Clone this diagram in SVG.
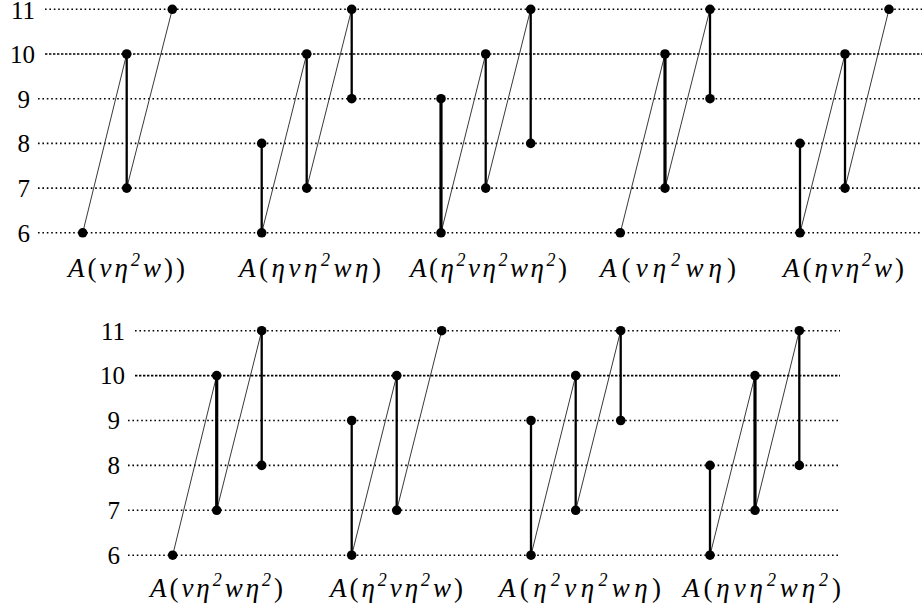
<svg xmlns="http://www.w3.org/2000/svg" id="root" width="922" height="614" viewBox="0 0 922 614" font-family="Liberation Serif" style="font-family:'Liberation Serif',serif">
<style>
svg#root text, svg#root tspan { font-family: "Liberation Serif", serif !important; }
.grid{stroke:#000;stroke-width:1.6;stroke-dasharray:1.6 2.8;fill:none}
.g10{stroke-dasharray:2.4 1.6}
.thin{stroke:#222;stroke-width:0.9;fill:none}
.thick{stroke:#000;stroke-width:2.3;fill:none}
.xthick{stroke:#000;stroke-width:3.2;fill:none}
.dot{fill:#000}
</style>
<rect width="922" height="614" fill="#fff"/>
<g id="grid-top">
<line class="grid" x1="45" y1="9.3" x2="922" y2="9.3"/>
<line class="grid g10" x1="45" y1="54" x2="922" y2="54"/>
<line class="grid" x1="38" y1="98.7" x2="922" y2="98.7"/>
<line class="grid" x1="38" y1="143.4" x2="922" y2="143.4"/>
<line class="grid" x1="38" y1="188.1" x2="922" y2="188.1"/>
<line class="grid" x1="38" y1="232.8" x2="922" y2="232.8"/>
</g>
<g id="axis-top">
<text x="35" y="19" font-family="Liberation Serif" font-size="25" text-anchor="end" style="font-family:'Liberation Serif' !important">11</text>
<text x="35" y="63" font-family="Liberation Serif" font-size="25" text-anchor="end" style="font-family:'Liberation Serif' !important">10</text>
<text x="30" y="107.5" font-family="Liberation Serif" font-size="25" text-anchor="end" style="font-family:'Liberation Serif' !important">9</text>
<text x="30" y="152" font-family="Liberation Serif" font-size="25" text-anchor="end" style="font-family:'Liberation Serif' !important">8</text>
<text x="30" y="197" font-family="Liberation Serif" font-size="25" text-anchor="end" style="font-family:'Liberation Serif' !important">7</text>
<text x="30" y="241.5" font-family="Liberation Serif" font-size="25" text-anchor="end" style="font-family:'Liberation Serif' !important">6</text>
</g>
<g id="grid-bottom">
<line class="grid" x1="135" y1="330.7" x2="840" y2="330.7"/>
<line class="grid g10" x1="135" y1="375.6" x2="840" y2="375.6"/>
<line class="grid" x1="128" y1="420.5" x2="840" y2="420.5"/>
<line class="grid" x1="128" y1="465.4" x2="840" y2="465.4"/>
<line class="grid" x1="128" y1="510.3" x2="840" y2="510.3"/>
<line class="grid" x1="128" y1="555.2" x2="840" y2="555.2"/>
</g>
<g id="axis-bottom">
<text x="125" y="339.5" font-family="Liberation Serif" font-size="25" text-anchor="end" style="font-family:'Liberation Serif' !important">11</text>
<text x="125" y="384.3" font-family="Liberation Serif" font-size="25" text-anchor="end" style="font-family:'Liberation Serif' !important">10</text>
<text x="120" y="429" font-family="Liberation Serif" font-size="25" text-anchor="end" style="font-family:'Liberation Serif' !important">9</text>
<text x="120" y="474" font-family="Liberation Serif" font-size="25" text-anchor="end" style="font-family:'Liberation Serif' !important">8</text>
<text x="120" y="519" font-family="Liberation Serif" font-size="25" text-anchor="end" style="font-family:'Liberation Serif' !important">7</text>
<text x="120" y="564" font-family="Liberation Serif" font-size="25" text-anchor="end" style="font-family:'Liberation Serif' !important">6</text>
</g>
<g id="connectors">
<line class="thin" x1="82.7" y1="232.8" x2="126.7" y2="54"/>
<line class="thin" x1="126.7" y1="188.1" x2="172.3" y2="9.3"/>
<line class="thick" x1="126.7" y1="54" x2="126.7" y2="188.1"/>
<line class="thin" x1="261.7" y1="232.8" x2="306.7" y2="54"/>
<line class="thin" x1="306.7" y1="188.1" x2="351.7" y2="9.3"/>
<line class="thick" x1="261.7" y1="143.4" x2="261.7" y2="232.8"/>
<line class="thick" x1="306.7" y1="54" x2="306.7" y2="188.1"/>
<line class="thick" x1="351.7" y1="9.3" x2="351.7" y2="98.7"/>
<line class="thin" x1="441" y1="232.8" x2="485.7" y2="54"/>
<line class="thin" x1="485.7" y1="188.1" x2="530.7" y2="9.3"/>
<line class="xthick" x1="441" y1="98.7" x2="441" y2="232.8"/>
<line class="thick" x1="485.7" y1="54" x2="485.7" y2="188.1"/>
<line class="thick" x1="530.7" y1="9.3" x2="530.7" y2="143.4"/>
<line class="thin" x1="620.3" y1="232.8" x2="665" y2="54"/>
<line class="thin" x1="665" y1="188.1" x2="710" y2="9.3"/>
<line class="xthick" x1="665" y1="54" x2="665" y2="188.1"/>
<line class="thick" x1="710" y1="9.3" x2="710" y2="98.7"/>
<line class="thin" x1="800" y1="232.8" x2="845" y2="54"/>
<line class="thin" x1="845" y1="188.1" x2="889" y2="9.3"/>
<line class="thick" x1="800" y1="143.4" x2="800" y2="232.8"/>
<line class="thick" x1="845" y1="54" x2="845" y2="188.1"/>
<line class="thin" x1="172.7" y1="555.2" x2="216.7" y2="375.6"/>
<line class="thin" x1="216.7" y1="510.3" x2="261.7" y2="330.7"/>
<line class="xthick" x1="216.7" y1="375.6" x2="216.7" y2="510.3"/>
<line class="thick" x1="261.7" y1="330.7" x2="261.7" y2="465.4"/>
<line class="thin" x1="351.7" y1="555.2" x2="396.7" y2="375.6"/>
<line class="thin" x1="396.7" y1="510.3" x2="441.7" y2="330.7"/>
<line class="thick" x1="351.7" y1="420.5" x2="351.7" y2="555.2"/>
<line class="thick" x1="396.7" y1="375.6" x2="396.7" y2="510.3"/>
<line class="thin" x1="531" y1="555.2" x2="575.7" y2="375.6"/>
<line class="thin" x1="575.7" y1="510.3" x2="620.7" y2="330.7"/>
<line class="thick" x1="531" y1="420.5" x2="531" y2="555.2"/>
<line class="thick" x1="575.7" y1="375.6" x2="575.7" y2="510.3"/>
<line class="thick" x1="620.7" y1="330.7" x2="620.7" y2="420.5"/>
<line class="thin" x1="710" y1="555.2" x2="755" y2="375.6"/>
<line class="thin" x1="755" y1="510.3" x2="799.3" y2="330.7"/>
<line class="thick" x1="710" y1="465.4" x2="710" y2="555.2"/>
<line class="xthick" x1="755" y1="375.6" x2="755" y2="510.3"/>
<line class="thick" x1="799.3" y1="330.7" x2="799.3" y2="465.4"/>
</g>
<g id="t1">
<circle class="dot" cx="82.7" cy="232.8" r="4.8"/><circle class="dot" cx="126.7" cy="54" r="4.8"/><circle class="dot" cx="126.7" cy="188.1" r="4.8"/><circle class="dot" cx="172.3" cy="9.3" r="4.8"/>
<text x="68" y="277" font-family="Liberation Serif" font-size="27" font-style="italic" style="font-family:'Liberation Serif' !important" textLength="117" lengthAdjust="spacing">A<tspan font-style="normal">(</tspan>vη<tspan font-size="18" dy="-11">2</tspan><tspan dy="11">w</tspan><tspan font-style="normal">))</tspan></text>
</g>
<g id="t2">
<circle class="dot" cx="261.7" cy="143.4" r="4.8"/><circle class="dot" cx="261.7" cy="232.8" r="4.8"/><circle class="dot" cx="306.7" cy="54" r="4.8"/><circle class="dot" cx="306.7" cy="188.1" r="4.8"/><circle class="dot" cx="351.7" cy="9.3" r="4.8"/><circle class="dot" cx="351.7" cy="98.7" r="4.8"/>
<text x="239" y="277" font-family="Liberation Serif" font-size="27" font-style="italic" style="font-family:'Liberation Serif' !important" textLength="142" lengthAdjust="spacing">A<tspan font-style="normal">(</tspan>ηvη<tspan font-size="18" dy="-11">2</tspan><tspan dy="11">wη</tspan><tspan font-style="normal">)</tspan></text>
</g>
<g id="t3">
<circle class="dot" cx="441" cy="98.7" r="4.8"/><circle class="dot" cx="441" cy="232.8" r="4.8"/><circle class="dot" cx="485.7" cy="54" r="4.8"/><circle class="dot" cx="485.7" cy="188.1" r="4.8"/><circle class="dot" cx="530.7" cy="9.3" r="4.8"/><circle class="dot" cx="530.7" cy="143.4" r="4.8"/>
<text x="410" y="277" font-family="Liberation Serif" font-size="27" font-style="italic" style="font-family:'Liberation Serif' !important" textLength="157" lengthAdjust="spacing">A<tspan font-style="normal">(</tspan>η<tspan font-size="18" dy="-11">2</tspan><tspan dy="11">vη</tspan><tspan font-size="18" dy="-11">2</tspan><tspan dy="11">wη</tspan><tspan font-size="18" dy="-11">2</tspan><tspan font-style="normal" dy="11">)</tspan></text>
</g>
<g id="t4">
<circle class="dot" cx="620.3" cy="232.8" r="4.8"/><circle class="dot" cx="665" cy="54" r="4.8"/><circle class="dot" cx="665" cy="188.1" r="4.8"/><circle class="dot" cx="710" cy="9.3" r="4.8"/><circle class="dot" cx="710" cy="98.7" r="4.8"/>
<text x="600" y="277" font-family="Liberation Serif" font-size="27" font-style="italic" style="font-family:'Liberation Serif' !important" textLength="136" lengthAdjust="spacing">A<tspan font-style="normal">(</tspan>vη<tspan font-size="18" dy="-11">2</tspan><tspan dy="11">wη</tspan><tspan font-style="normal">)</tspan></text>
</g>
<g id="t5">
<circle class="dot" cx="800" cy="143.4" r="4.8"/><circle class="dot" cx="800" cy="232.8" r="4.8"/><circle class="dot" cx="845" cy="54" r="4.8"/><circle class="dot" cx="845" cy="188.1" r="4.8"/><circle class="dot" cx="889" cy="9.3" r="4.8"/>
<text x="783" y="277" font-family="Liberation Serif" font-size="27" font-style="italic" style="font-family:'Liberation Serif' !important" textLength="121" lengthAdjust="spacing">A<tspan font-style="normal">(</tspan>ηvη<tspan font-size="18" dy="-11">2</tspan><tspan dy="11">w</tspan><tspan font-style="normal">)</tspan></text>
</g>
<g id="b1">
<circle class="dot" cx="172.7" cy="555.2" r="4.8"/><circle class="dot" cx="216.7" cy="375.6" r="4.8"/><circle class="dot" cx="216.7" cy="510.3" r="4.8"/><circle class="dot" cx="261.7" cy="330.7" r="4.8"/><circle class="dot" cx="261.7" cy="465.4" r="4.8"/>
<text x="150" y="597" font-family="Liberation Serif" font-size="27" font-style="italic" style="font-family:'Liberation Serif' !important" textLength="133" lengthAdjust="spacing">A<tspan font-style="normal">(</tspan>vη<tspan font-size="18" dy="-11">2</tspan><tspan dy="11">wη</tspan><tspan font-size="18" dy="-11">2</tspan><tspan font-style="normal" dy="11">)</tspan></text>
</g>
<g id="b2">
<circle class="dot" cx="351.7" cy="420.5" r="4.8"/><circle class="dot" cx="351.7" cy="555.2" r="4.8"/><circle class="dot" cx="396.7" cy="375.6" r="4.8"/><circle class="dot" cx="396.7" cy="510.3" r="4.8"/><circle class="dot" cx="441.7" cy="330.7" r="4.8"/>
<text x="330" y="597" font-family="Liberation Serif" font-size="27" font-style="italic" style="font-family:'Liberation Serif' !important" textLength="133" lengthAdjust="spacing">A<tspan font-style="normal">(</tspan>η<tspan font-size="18" dy="-11">2</tspan><tspan dy="11">vη</tspan><tspan font-size="18" dy="-11">2</tspan><tspan dy="11">w</tspan><tspan font-style="normal">)</tspan></text>
</g>
<g id="b3">
<circle class="dot" cx="531" cy="420.5" r="4.8"/><circle class="dot" cx="531" cy="555.2" r="4.8"/><circle class="dot" cx="575.7" cy="375.6" r="4.8"/><circle class="dot" cx="575.7" cy="510.3" r="4.8"/><circle class="dot" cx="620.7" cy="330.7" r="4.8"/><circle class="dot" cx="620.7" cy="420.5" r="4.8"/>
<text x="499" y="597" font-family="Liberation Serif" font-size="27" font-style="italic" style="font-family:'Liberation Serif' !important" textLength="162" lengthAdjust="spacing">A<tspan font-style="normal">(</tspan>η<tspan font-size="18" dy="-11">2</tspan><tspan dy="11">vη</tspan><tspan font-size="18" dy="-11">2</tspan><tspan dy="11">wη</tspan><tspan font-style="normal">)</tspan></text>
</g>
<g id="b4">
<circle class="dot" cx="710" cy="465.4" r="4.8"/><circle class="dot" cx="710" cy="555.2" r="4.8"/><circle class="dot" cx="755" cy="375.6" r="4.8"/><circle class="dot" cx="755" cy="510.3" r="4.8"/><circle class="dot" cx="799.3" cy="330.7" r="4.8"/><circle class="dot" cx="799.3" cy="465.4" r="4.8"/>
<text x="683" y="597" font-family="Liberation Serif" font-size="27" font-style="italic" style="font-family:'Liberation Serif' !important" textLength="158" lengthAdjust="spacing">A<tspan font-style="normal">(</tspan>ηvη<tspan font-size="18" dy="-11">2</tspan><tspan dy="11">wη</tspan><tspan font-size="18" dy="-11">2</tspan><tspan font-style="normal" dy="11">)</tspan></text>
</g>
</svg>
